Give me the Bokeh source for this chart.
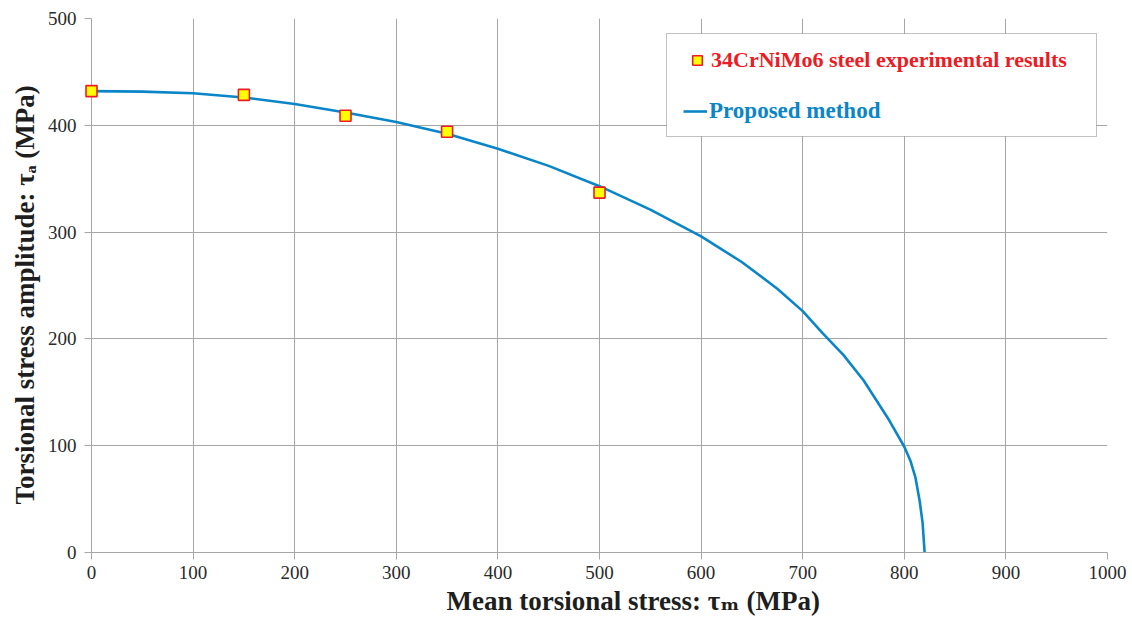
from bokeh.plotting import figure
from bokeh.models import Range1d, Legend, LegendItem, BoxAnnotation, FixedTicker
from bokeh.embed import file_html
from bokeh.resources import INLINE

# data
exp_tau_m = [0, 150, 250, 350, 500]
exp_tau_a = [432, 428.5, 409, 394, 337]

curve_tau_m = [0, 50, 100, 150, 200, 250, 300, 350, 400, 450, 500, 550, 600, 640, 675,
               700, 720, 740, 760, 785, 800, 806, 811, 815, 818, 820]
curve_tau_a = [432, 431.5, 430, 426, 420, 412, 403, 392, 378, 362, 343, 321, 296, 272, 247,
               226, 205, 185, 161, 124, 99, 86, 70, 49, 28, 0]

x_ticks = [0, 100, 200, 300, 400, 500, 600, 700, 800, 900, 1000]
y_ticks = [0, 100, 200, 300, 400, 500]

# leading/trailing en spaces only shift the centred titles to the reference position
x_title = "\u2002\u2002\u2002\u2002\u2002Mean torsional stress: \u03c4\u2098 (MPa)"
y_title = "Torsional stress amplitude: \u03c4\u2090 (MPa)\u2002\u2009"
legend_exp = "34CrNiMo6 steel experimental results"
legend_model = "Proposed method"

FONT = "Liberation Serif"
TITLE_FONT = "'Liberation Serif', 'DejaVu Serif'"
BLUE = "#0a86c8"
RED = "#ec1c24"
GRID = "#a6a6a6"
TC = "#1e1e1e"

p = figure(width=1132, height=622, output_backend="svg", toolbar_location=None,
           x_range=Range1d(0, 1000), y_range=Range1d(0, 500),
           min_border_left=91, min_border_right=25, min_border_top=18, min_border_bottom=70)
p.outline_line_color = None
p.background_fill_color = "white"
p.border_fill_color = "white"

for ax in (p.xaxis[0], p.yaxis[0]):
    ax.axis_line_color = GRID
    ax.major_tick_line_color = GRID
    ax.major_tick_out = 7
    ax.major_tick_in = 0
    ax.minor_tick_line_color = None
    ax.major_label_text_font = FONT
    ax.major_label_text_font_size = "19px"
    ax.major_label_text_color = "#2a2a2a"
    ax.axis_label_text_font = TITLE_FONT
    ax.axis_label_text_font_size = "27px"
    ax.axis_label_text_font_style = "bold"
    ax.axis_label_text_color = TC
p.xaxis[0].ticker = FixedTicker(ticks=x_ticks)
p.yaxis[0].ticker = FixedTicker(ticks=y_ticks)
p.xaxis[0].major_label_standoff = 6
p.yaxis[0].major_label_standoff = 8
p.xaxis[0].axis_label = x_title
p.yaxis[0].axis_label = y_title
p.xaxis[0].axis_label_standoff = 4
p.yaxis[0].axis_label_standoff = 5

for g in (p.xgrid[0], p.ygrid[0]):
    g.grid_line_color = GRID
    g.grid_line_width = 1
p.xgrid[0].ticker = FixedTicker(ticks=x_ticks)
p.ygrid[0].ticker = FixedTicker(ticks=y_ticks)

line_r = p.line(curve_tau_m, curve_tau_a, line_color=BLUE, line_width=2.6)
pts_r = p.scatter(exp_tau_m, exp_tau_a, marker="square", size=11,
                  fill_color="#ffff00", line_color=RED, line_width=1.6, level="overlay")

# legend box
box = BoxAnnotation(left=666 - 91, right=1096 - 91, top=552 - 33, bottom=552 - 136,
                    left_units="screen", right_units="screen",
                    top_units="screen", bottom_units="screen",
                    fill_color="white", fill_alpha=1.0, line_color="#333333", line_width=1,
                    level="annotation")
p.add_layout(box)

common = dict(padding=0, margin=0, spacing=0, glyph_width=24, glyph_height=30,
              label_height=30, label_standoff=2, border_line_color=None,
              background_fill_alpha=0.0, label_text_font=FONT,
              label_text_font_style="bold")
leg1 = Legend(items=[LegendItem(label=legend_exp, renderers=[pts_r])],
              location=(685 - 91, 552 - 75), label_text_color=RED,
              label_text_font_size="22px", **common)
leg2 = Legend(items=[LegendItem(label=legend_model, renderers=[line_r])],
              location=(683 - 91, 552 - 126), label_text_color=BLUE,
              label_text_font_size="23px", **common)
p.add_layout(leg1)
p.add_layout(leg2)

open("out.html", "w").write(file_html(p, INLINE))
